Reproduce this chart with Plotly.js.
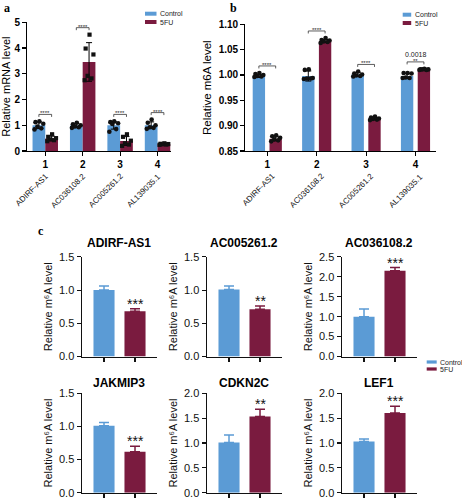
<!DOCTYPE html>
<html><head><meta charset="utf-8">
<script src="https://cdn.plot.ly/plotly-3.0.1.min.js"></script>
<style>html,body{margin:0;padding:0;background:#fff}#chart{width:462px;height:500px}</style>
</head><body><div id="chart"></div>
<script>
// ---------- DATA ----------
// Panel a: relative mRNA level
const geneLabelsAB = ['ADIRF-AS1', 'AC036108.2', 'AC005261.2', 'AL139035.1'];
const groupNumbers = [1, 2, 3, 4];
const mrnaControl = [1.00, 0.99, 1.00, 1.00];
const mrnaControlSD = [0.13, 0.08, 0.15, 0.13];
const mrna5FU = [0.49, 3.46, 0.39, 0.27];
const mrna5FUSD = [0.09, 0.75, 0.17, 0.03];
const mrnaControlDots = [
  [1.15, 1.12, 1.06, 0.95, 0.88, 0.84],
  [1.10, 1.04, 1.00, 0.95, 0.92, 0.90],
  [1.15, 1.12, 1.08, 1.05, 0.85, 0.75],
  [1.22, 1.10, 1.00, 0.92, 0.90, 0.86]
];
const mrna5FUDots = [
  [0.65, 0.55, 0.50, 0.45, 0.42, 0.38],
  [4.52, 3.98, 3.75, 2.92, 2.82, 2.75],
  [0.65, 0.55, 0.40, 0.30, 0.25, 0.20],
  [0.30, 0.28, 0.27, 0.26, 0.25, 0.24]
];
const mrnaSig = ['****', '****', '****', '****'];

// Panel b: relative m6A level
const m6aControl = [0.998, 0.998, 1.001, 0.998];
const m6aControlSD = [0.003, 0.010, 0.004, 0.005];
const m6a5FU = [0.874, 1.067, 0.914, 1.011];
const m6a5FUSD = [0.004, 0.003, 0.002, 0.001];
const m6aControlDots = [
  [1.004, 1.002, 1.000, 0.998, 0.997, 0.996],
  [1.011, 1.010, 0.994, 0.993, 0.993, 0.992],
  [1.007, 1.003, 1.001, 0.999, 0.998, 0.997],
  [1.004, 1.004, 1.003, 0.995, 0.994, 0.994]
];
const m6a5FUDots = [
  [0.881, 0.879, 0.876, 0.873, 0.871, 0.869],
  [1.073, 1.069, 1.068, 1.066, 1.065, 1.063],
  [0.918, 0.916, 0.914, 0.913, 0.912, 0.911],
  [1.012, 1.011, 1.011, 1.011, 1.010, 1.010]
];
const m6aSig = ['****', '****', '****', '**'];
const m6aPValues = ['', '', '', '0.0018'];
const m6aTicks = [0.85, 0.90, 0.95, 1.00, 1.05, 1.10];

// Panel c: relative m6A level
const cGenes = ['ADIRF-AS1', 'AC005261.2', 'AC036108.2', 'JAKMIP3', 'CDKN2C', 'LEF1'];
const cControl = [1.00, 1.01, 1.00, 1.01, 1.01, 1.03];
const cControlErr = [0.06, 0.05, 0.19, 0.05, 0.15, 0.05];
const c5FU = [0.68, 0.71, 2.15, 0.62, 1.53, 1.60];
const c5FUErr = [0.04, 0.05, 0.08, 0.08, 0.15, 0.14];
const cSig = ['***', '**', '***', '***', '**', '***'];
const cAxisMax = [1.5, 1.5, 2.5, 1.5, 2.0, 2.0];
const seriesNames = ['Control', '5FU'];

// ---------- STYLE ----------
const BLUE = '#5B9BD5';
const RED = '#7A1B3F';
const FONT = 'Liberation Sans, Arial, sans-serif';
const W = 462, H = 500;
const px = v => v / W;
const py = v => 1 - v / H;
const HALF = 0.17;                                   // half distance between paired bar centres
const SPREAD_PATTERN = [0.05, -0.35, 0.45, -0.15, 0.25, -0.45]; // horizontal scatter pattern (fraction of spread)

const traces = [];
const shapes = [];
const annotations = [];

// individual replicate points, scattered horizontally inside their bar
function dotsTrace(groups, side, spread, xa, ya, symbol, size) {
  const xs = [], ys = [];
  groups.forEach((g, i) => g.forEach((v, j) => {
    xs.push(groupNumbers[i] + side * HALF + SPREAD_PATTERN[j % SPREAD_PATTERN.length] * spread);
    ys.push(v);
  }));
  return {type: 'scatter', mode: 'markers', x: xs, y: ys, xaxis: xa, yaxis: ya, cliponaxis: false,
    marker: {color: '#111', size: size, symbol: symbol, line: {width: 0}}, hoverinfo: 'skip', showlegend: false};
}

// Panel a
traces.push({type: 'bar', name: seriesNames[0], x: groupNumbers, y: mrnaControl, xaxis: 'x', yaxis: 'y',
  marker: {color: BLUE}, error_y: {type: 'data', array: mrnaControlSD, color: '#000', thickness: 1, width: 3}, showlegend: false});
traces.push({type: 'bar', name: seriesNames[1], x: groupNumbers, y: mrna5FU, xaxis: 'x', yaxis: 'y',
  marker: {color: RED}, error_y: {type: 'data', array: mrna5FUSD, color: '#000', thickness: 1, width: 3}, showlegend: false});
traces.push(dotsTrace(mrnaControlDots, -1, 0.26, 'x', 'y', 'circle', 4.6));
traces.push(dotsTrace(mrna5FUDots, 1, 0.26, 'x', 'y', 'square', 4.2));

// Panel b
traces.push({type: 'bar', name: seriesNames[0], x: groupNumbers, y: m6aControl, xaxis: 'x2', yaxis: 'y2', width: 0.25,
  marker: {color: BLUE}, error_y: {type: 'data', array: m6aControlSD, color: '#000', thickness: 1, width: 3}, showlegend: false});
traces.push({type: 'bar', name: seriesNames[1], x: groupNumbers, y: m6a5FU, xaxis: 'x2', yaxis: 'y2', width: 0.25,
  marker: {color: RED}, error_y: {type: 'data', array: m6a5FUSD, color: '#000', thickness: 1, width: 3}, showlegend: false});
traces.push(dotsTrace(m6aControlDots, -1, 0.2, 'x2', 'y2', 'circle', 4.6));
traces.push(dotsTrace(m6a5FUDots, 1, 0.2, 'x2', 'y2', 'circle', 4.6));

// Significance brackets for a and b
function brackets(xref, yref, ctrlDots, fuDots, ctrlMean, ctrlSD, fuMean, fuSD, sig, pvals, unitPerPx) {
  groupNumbers.forEach((g, i) => {
    const top = Math.max(...ctrlDots[i], ...fuDots[i], ctrlMean[i] + ctrlSD[i], fuMean[i] + fuSD[i]) + 7 * unitPerPx;
    const leg = 2.5 * unitPerPx;
    shapes.push({type: 'path', xref: xref, yref: yref,
      path: `M ${g - HALF},${top - leg} L ${g - HALF},${top} L ${g + HALF},${top} L ${g + HALF},${top - leg}`,
      line: {color: '#333', width: 0.8}});
    annotations.push({xref: xref, yref: yref, x: g, y: top, text: sig[i], showarrow: false,
      yanchor: 'bottom', yshift: -4, font: {size: 6, color: '#222', family: FONT}});
    if (pvals && pvals[i]) {
      annotations.push({xref: xref, yref: yref, x: g, y: top, text: pvals[i], showarrow: false,
        yanchor: 'bottom', yshift: 2, font: {size: 7, color: '#222', family: FONT}});
    }
  });
}
brackets('x', 'y', mrnaControlDots, mrna5FUDots, mrnaControl, mrnaControlSD, mrna5FU, mrna5FUSD, mrnaSig, null, 5 / 128.7);
brackets('x2', 'y2', m6aControlDots, m6a5FUDots, m6aControl, m6aControlSD, m6a5FU, m6a5FUSD, m6aSig, m6aPValues, 0.25 / 126.7);

// Rotated gene labels under a and b
geneLabelsAB.forEach((lab, i) => {
  annotations.push({xref: 'x', yref: 'paper', x: groupNumbers[i], y: py(169), text: lab, textangle: -45,
    xanchor: 'right', yanchor: 'top', xshift: 8, showarrow: false, font: {size: 8, color: '#111', family: FONT}});
  annotations.push({xref: 'x2', yref: 'paper', x: groupNumbers[i], y: py(169), text: lab, textangle: -45,
    xanchor: 'right', yanchor: 'top', xshift: 12.5, showarrow: false, font: {size: 8, color: '#111', family: FONT}});
});

// Panel c subplots
const colDom = [[px(81.7), px(156.7)], [px(206.7), px(281.7)], [px(341.7), px(416.7)]];
const rowDom = [[py(356.6), py(256.8)], [py(492.8), py(393.2)]];
const titleY = [py(243.3), py(383.3)];
const layout = {
  width: W, height: H, margin: {l: 0, r: 0, t: 0, b: 0},
  paper_bgcolor: '#fff', plot_bgcolor: '#fff',
  font: {family: FONT, color: '#000'},
  barmode: 'group', bargap: 0.32, bargroupgap: 0,
  showlegend: false,
  xaxis: {domain: [px(27.3), px(171)], range: [0.52, 4.36], anchor: 'y', showline: true, linecolor: '#000', linewidth: 1.2,
    ticks: 'outside', ticklen: 4, tickwidth: 1.1, tickcolor: '#000', tickvals: groupNumbers, showgrid: false, zeroline: false,
    tickfont: {size: 10, weight: 'bold', family: FONT}},
  yaxis: {domain: [py(151), py(22.3)], range: [0, 5], anchor: 'x', showline: true, linecolor: '#000', linewidth: 1.2,
    ticks: 'outside', ticklen: 4, tickwidth: 1.1, tickcolor: '#000', dtick: 1, showgrid: false, zeroline: false,
    tickfont: {size: 10, weight: 'bold', family: FONT},
    title: {text: 'Relative mRNA level', font: {size: 11, family: FONT}, standoff: 4}},
  xaxis2: {domain: [px(245.3), px(436)], range: [0.555, 4.415], anchor: 'y2', showline: true, linecolor: '#000', linewidth: 1.2,
    ticks: 'outside', ticklen: 4, tickwidth: 1.1, tickcolor: '#000', tickvals: groupNumbers, showgrid: false, zeroline: false,
    tickfont: {size: 10, weight: 'bold', family: FONT}},
  yaxis2: {domain: [py(151), py(24.3)], range: [0.85, 1.10], anchor: 'x2', showline: true, linecolor: '#000', linewidth: 1.2,
    ticks: 'outside', ticklen: 4, tickwidth: 1.1, tickcolor: '#000', tickvals: m6aTicks, tickformat: '.2f', showgrid: false, zeroline: false,
    tickfont: {size: 10, weight: 'bold', family: FONT},
    title: {text: 'Relative m6A level', font: {size: 11.5, family: FONT}, standoff: 4}},
  shapes: shapes, annotations: annotations
};

cGenes.forEach((gene, k) => {
  const n = k + 3, row = Math.floor(k / 3), col = k % 3;
  const xa = 'x' + n, ya = 'y' + n;
  traces.push({type: 'bar', name: seriesNames[0], x: [0], y: [cControl[k]], xaxis: xa, yaxis: ya, offsetgroup: 'c',
    marker: {color: BLUE}, showlegend: false,
    error_y: {type: 'data', array: [cControlErr[k]], arrayminus: [0], symmetric: false, color: BLUE, thickness: 1.5, width: 5}});
  traces.push({type: 'bar', name: seriesNames[1], x: [1], y: [c5FU[k]], xaxis: xa, yaxis: ya, offsetgroup: 'c',
    marker: {color: RED}, showlegend: false,
    error_y: {type: 'data', array: [c5FUErr[k]], arrayminus: [0], symmetric: false, color: RED, thickness: 1.5, width: 5}});
  layout['xaxis' + n] = {domain: colDom[col], range: [-0.72, 1.70], anchor: ya, showline: true, linecolor: '#111', linewidth: 1.2,
    ticks: 'outside', ticklen: 4, tickwidth: 1.1, tickcolor: '#111', tickvals: [0, 1], showticklabels: false, showgrid: false, zeroline: false};
  layout['yaxis' + n] = {domain: rowDom[row], range: [0, cAxisMax[k]], anchor: xa, showline: true, linecolor: '#111', linewidth: 1.2,
    ticks: 'outside', ticklen: 4, tickwidth: 1.1, tickcolor: '#111', dtick: 0.5, tickformat: '.1f', showgrid: false, zeroline: false,
    tickfont: {size: 11, family: FONT, color: '#111'},
    title: {text: 'Relative m⁶A level', font: {size: 11, family: FONT, color: '#111'}, standoff: 4}};
  annotations.push({xref: xa + ' domain', yref: 'paper', x: 0.5, y: titleY[row], text: gene, showarrow: false,
    yanchor: 'middle', font: {size: 12, weight: 'bold', family: FONT, color: '#000'}});
  annotations.push({xref: xa, yref: ya, x: 1, y: c5FU[k] + c5FUErr[k], text: cSig[k], showarrow: false,
    yanchor: 'bottom', yshift: -5, font: {size: 14, family: FONT, color: '#111'}});
});

// Panel letters
[['a', 7.5, 8], ['b', 234, 8], ['c', 40.5, 230.5]].forEach(([t, x, y]) => {
  annotations.push({xref: 'paper', yref: 'paper', x: px(x), y: py(y), text: t, showarrow: false,
    xanchor: 'center', yanchor: 'middle', font: {size: 12, weight: 'bold', family: 'Liberation Serif, Times New Roman, serif', color: '#000'}});
});

// Legends (swatches + labels)
const legendSpots = [
  {x: 145, y: [13.7, 22], w: 11.5, h: 4},
  {x: 402.7, y: [14.7, 23], w: 8.5, h: 4},
  {x: 426.7, y: [362, 369], w: 10, h: 3.2}
];
legendSpots.forEach(L => {
  [BLUE, RED].forEach((c, j) => {
    shapes.push({type: 'rect', xref: 'paper', yref: 'paper', x0: px(L.x), x1: px(L.x + L.w),
      y0: py(L.y[j] + L.h / 2), y1: py(L.y[j] - L.h / 2), fillcolor: c, line: {width: 0}});
    annotations.push({xref: 'paper', yref: 'paper', x: px(L.x + L.w + 1.5), y: py(L.y[j]), text: seriesNames[j],
      showarrow: false, xanchor: 'left', yanchor: 'middle', font: {size: 7, family: FONT, color: '#222'}});
  });
});

Plotly.newPlot('chart', traces, layout, {staticPlot: true, displayModeBar: false});
</script>
</body></html>
